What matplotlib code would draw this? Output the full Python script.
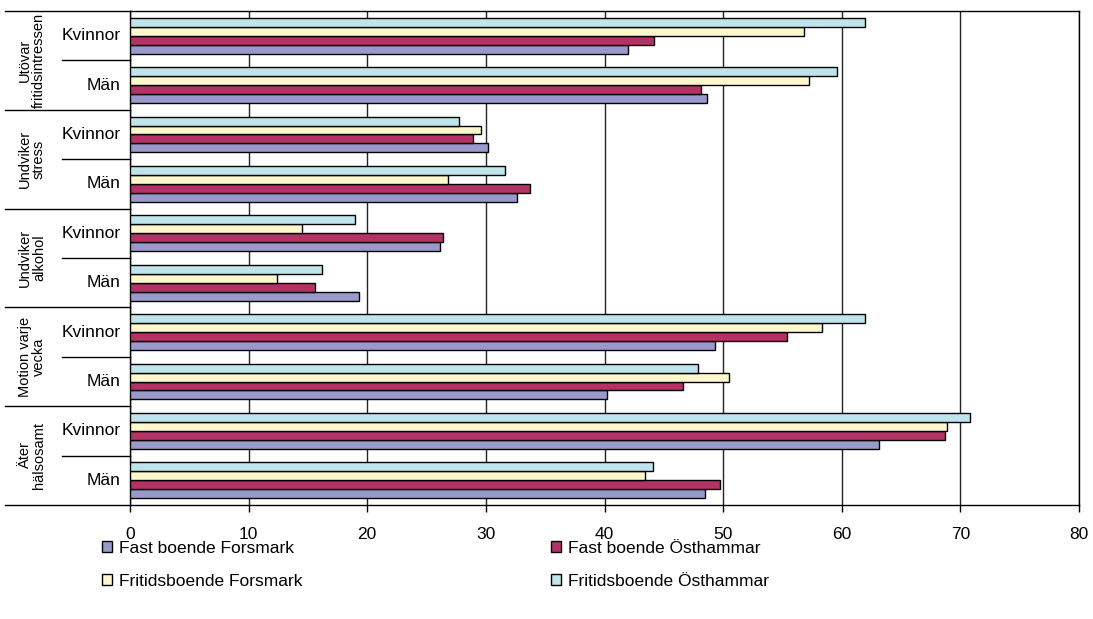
"""Horizontal grouped bar chart: health habits by residence type and gender."""

import numpy as np
import matplotlib
matplotlib.use("Agg")
import matplotlib.pyplot as plt
from matplotlib.lines import Line2D
from matplotlib.patches import Patch
from matplotlib.transforms import blended_transform_factory

plt.rcParams["font.family"] = ["Liberation Sans", "DejaVu Sans"]

# groups listed bottom -> top
categories = ["Äter\nhälsosamt", "Motion varje\nvecka", "Undviker\nalkohol",
              "Undviker\nstress", "Utövar\nfritidsintressen"]
genders = ["Män", "Kvinnor"]

fast_forsmark = [48.5, 63.1, 40.2, 49.3, 19.3, 26.1, 32.6, 30.2, 48.6, 42.0]
fast_osthammar = [49.7, 68.7, 46.6, 55.4, 15.6, 26.4, 33.7, 28.9, 48.1, 44.2]
fritid_forsmark = [43.4, 68.9, 50.5, 58.3, 12.4, 14.5, 26.8, 29.6, 57.2, 56.8]
fritid_osthammar = [44.1, 70.8, 47.9, 62.0, 16.2, 19.0, 31.6, 27.7, 59.6, 62.0]

series_names = ["Fast boende Forsmark", "Fast boende Östhammar",
                "Fritidsboende Forsmark", "Fritidsboende Östhammar"]
series_vals = [fast_forsmark, fast_osthammar, fritid_forsmark, fritid_osthammar]
colors = ["#9999CC", "#B33366", "#FFF8CC", "#C0E4EC"]

W, H = 1093, 619
fig = plt.figure(figsize=(W / 100, H / 100), dpi=100)
ax = fig.add_axes([130 / W, 1 - 505 / H, 949 / W, 494 / H])

n_groups = len(categories) * len(genders)
y = np.arange(n_groups)
bar_h = 0.182
offsets = (np.arange(4) - 1.5) * bar_h

for vals, off, c in zip(series_vals, offsets, colors):
    ax.barh(y + off, vals, height=bar_h, color=c, edgecolor="black",
            linewidth=1.0, zorder=3)

ax.set_xlim(0, 80)
ax.set_ylim(-0.5, n_groups - 0.5)
ax.set_xticks(np.arange(0, 81, 10))
ax.tick_params(axis="x", direction="out", length=5, width=1, pad=11,
               labelsize=12.5)
ax.set_yticks([])
ax.grid(axis="x", color="#222222", linewidth=1, zorder=0)
for s in ax.spines.values():
    s.set_linewidth(1)
    s.set_color("black")

# multi-level category labels on the left
tr = blended_transform_factory(fig.transFigure, ax.transData)
for b in np.arange(-0.5, n_groups, 2):
    fig.add_artist(Line2D([5 / W, 130 / W], [b, b], transform=tr,
                          color="black", linewidth=1))
for b in np.arange(0.5, n_groups, 2):
    fig.add_artist(Line2D([62 / W, 130 / W], [b, b], transform=tr,
                          color="black", linewidth=1))

for i, cat in enumerate(categories):
    fig.text(32 / W, 2 * i + 0.5, cat, transform=tr, rotation=90,
             ha="center", va="center", fontsize=10.5, linespacing=1.0)
    for j, g in enumerate(genders):
        fig.text(121 / W, 2 * i + j, g, transform=tr, ha="right",
                 va="center", fontsize=12.5)

handles = [Patch(facecolor=colors[k], edgecolor="black", linewidth=1)
           for k in [0, 2, 1, 3]]
labels = [series_names[k] for k in [0, 2, 1, 3]]
fig.legend(handles, labels, loc="upper left",
           bbox_to_anchor=(93 / W, 1 - 532 / H), ncol=2, frameon=False,
           fontsize=12.5, handlelength=0.6, handleheight=0.6,
           handletextpad=0.4, columnspacing=14.3, labelspacing=1.05,
           borderpad=0)

fig.savefig("out.png", dpi=100, facecolor="white")
